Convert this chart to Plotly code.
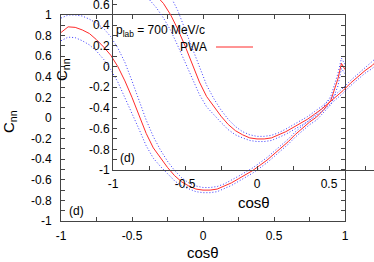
import plotly.graph_objects as go

W, H = 374, 262

# ---- data ----
cos_theta = [-1.0, -0.95, -0.9, -0.85, -0.8, -0.75, -0.7, -0.65, -0.6, -0.55, -0.5, -0.45,
             -0.4, -0.35, -0.3, -0.25, -0.2, -0.15, -0.1, -0.05, 0.0, 0.05, 0.1, 0.15, 0.2,
             0.25, 0.3, 0.35, 0.4, 0.45, 0.5, 0.55, 0.6, 0.65, 0.7, 0.75, 0.8, 0.85, 0.9,
             0.95, 0.975, 1.0]
cnn_pwa = [0.83, 0.885, 0.88, 0.855, 0.82, 0.76, 0.69, 0.61, 0.50, 0.36, 0.20, 0.03,
           -0.15, -0.29, -0.39, -0.48, -0.56, -0.62, -0.66, -0.69, -0.70, -0.70, -0.69, -0.66, -0.63,
           -0.59, -0.55, -0.51, -0.46, -0.41, -0.35, -0.29, -0.23, -0.16, -0.10, -0.04, 0.01, 0.08, 0.17,
           0.38, 0.53, 0.47]
cnn_upper = [0.97, 1.0, 1.0, 0.99, 0.96, 0.92, 0.87, 0.79, 0.68, 0.54, 0.36, 0.17,
             -0.02, -0.18, -0.31, -0.42, -0.51, -0.58, -0.63, -0.66, -0.675, -0.675, -0.665, -0.64, -0.605,
             -0.565, -0.525, -0.485, -0.435, -0.385, -0.325, -0.265, -0.205, -0.135, -0.075, -0.015, 0.04, 0.11, 0.21,
             0.43, 0.58, 0.52]
cnn_lower = [0.75, 0.785, 0.78, 0.75, 0.71, 0.65, 0.57, 0.47, 0.35, 0.20, 0.04, -0.11,
             -0.27, -0.39, -0.47, -0.54, -0.61, -0.66, -0.69, -0.715, -0.725, -0.725, -0.715, -0.685, -0.655,
             -0.615, -0.575, -0.535, -0.485, -0.435, -0.375, -0.315, -0.255, -0.185, -0.125, -0.065, -0.02, 0.05, 0.13,
             0.31, 0.48, 0.43]

x_ticks = [-1, -0.75, -0.5, -0.25, 0, 0.25, 0.5, 0.75, 1]
x_ticktext = ["-1", "", "-0.5", "", "0", "", "0.5", "", "1"]
y_ticks = [-1, -0.9, -0.8, -0.7, -0.6, -0.5, -0.4, -0.3, -0.2, -0.1, 0, 0.1, 0.2, 0.3, 0.4, 0.5, 0.6, 0.7, 0.8, 0.9, 1]
y_ticktext = ["-1", "", "-0.8", "", "-0.6", "", "-0.4", "", "-0.2", "", "0", "", "0.2", "", "0.4", "", "0.6", "", "0.8", "", "1"]

RED = "#ff2a2a"
BLUE = "#3a3aff"
AX = "#444444"
FONT = "Liberation Sans, Arial, Helvetica, sans-serif"

fig = go.Figure()

for xa, ya in (("x", "y"), ("x2", "y2")):
    fig.add_trace(go.Scatter(x=cos_theta, y=cnn_upper, mode="lines", xaxis=xa, yaxis=ya,
                             line=dict(color=BLUE, width=1, dash="1px,2px"), hoverinfo="skip"))
    fig.add_trace(go.Scatter(x=cos_theta, y=cnn_lower, mode="lines", xaxis=xa, yaxis=ya,
                             line=dict(color=BLUE, width=1, dash="1px,2px"), hoverinfo="skip"))
    fig.add_trace(go.Scatter(x=cos_theta, y=cnn_pwa, mode="lines", xaxis=xa, yaxis=ya, name="PWA",
                             line=dict(color=RED, width=1)))

def px(x):
    return x / W

def py(y):
    return 1 - y / H

common = dict(showline=True, linecolor=AX, linewidth=1, ticks="inside", ticklen=4,
              tickcolor=AX, showgrid=False, zeroline=False, automargin=False,
              ticklabeloverflow="allow",
              tickfont=dict(family=FONT, size=12, color="#000"))

fig.update_layout(
    width=W, height=H,
    margin=dict(l=0, r=0, t=0, b=0, pad=0, autoexpand=False),
    paper_bgcolor="white", plot_bgcolor="rgba(0,0,0,0)",
    showlegend=False,
    xaxis=dict(domain=[px(61), px(345)], range=[-1, 1], anchor="y", mirror="ticks",
               tickvals=x_ticks, ticktext=x_ticktext, ticklabelstandoff=4, **common),
    yaxis=dict(domain=[py(221), py(15)], range=[-1, 1], anchor="x", mirror="ticks",
               tickvals=y_ticks, ticktext=y_ticktext, ticklabelstandoff=6, **common),
    xaxis2=dict(domain=[px(113), 1], range=[-1, (374 - 257) / 144.0], anchor="y2", mirror=False,
                tickvals=x_ticks, ticktext=x_ticktext, ticklabelstandoff=3, **common),
    yaxis2=dict(domain=[py(170), 1], range=[-1, 66.5 / 103.5], anchor="x2", mirror=False,
                tickvals=y_ticks, ticktext=y_ticktext, ticklabelstandoff=0, **common),
)

ann = []
def add_text(text, x, y, size=12, angle=0, xanchor="center"):
    ann.append(dict(text=text, x=px(x), y=py(y), xref="paper", yref="paper", showarrow=False,
                    xanchor=xanchor, yanchor="middle", textangle=angle,
                    font=dict(family=FONT, size=size, color="#000")))

# background panel labels
add_text("cosθ", 203, 252, size=15)
add_text("C<sub>nn</sub>", 9, 122, size=15, angle=-90)
add_text("(d)", 76, 211)
# overlaid panel labels
add_text("cosθ", 254, 202, size=15)
add_text("C<sub>nn</sub>", 62, 70, size=15, angle=-90)
add_text("(d)", 128, 158)
add_text("p<sub>lab</sub> = 700 MeV/c", 114, 31, xanchor="left")
add_text("PWA", 209, 47, xanchor="right")
fig.update_layout(annotations=ann)

fig.add_shape(type="line", xref="paper", yref="paper", x0=px(216), x1=px(253), y0=py(47), y1=py(47),
              line=dict(color=RED, width=1))

fig.write_html("out.html",
               config={"displayModeBar": False, "staticPlot": True},
               post_script="document.body.style.margin='0px';document.body.style.overflow='hidden';")
